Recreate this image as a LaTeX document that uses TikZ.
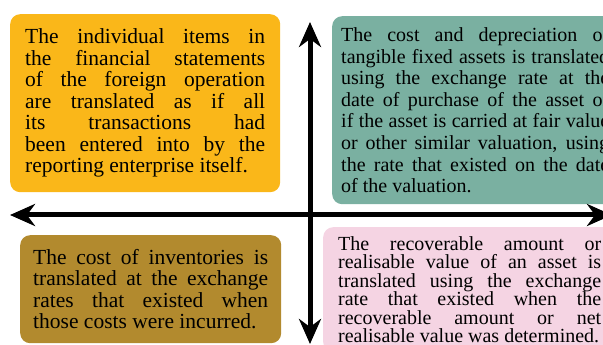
\documentclass[tikz,border=0pt]{standalone}
\usepackage{fontspec}
\setmainfont{Liberation Serif}
\usetikzlibrary{arrows.meta}

\definecolor{itemsyellow}{RGB}{250,183,25}
\definecolor{assetsteal}{RGB}{122,176,161}
\definecolor{stockbrown}{RGB}{178,138,46}
\definecolor{valuepink}{RGB}{245,212,227}

\begin{document}
\begin{tikzpicture}[
  x=1pt, y=1pt,
  every node/.style={anchor=north west, rounded corners=10pt, align=justify,
    execute at begin node={\tolerance=10000}},
  bigtext/.style={font=\fontsize{21.5}{21.5}\selectfont},
  midtext/.style={font=\fontsize{20}{21.6}\selectfont},
  smalltext/.style={font=\fontsize{20}{18.5}\selectfont},
  axis/.style={line width=5pt, <->, >={Stealth[length=25pt,width=22pt,inset=8pt]}}
]
\useasboundingbox (0,0) rectangle (603,345);
\clip (0,0) rectangle (603,345);

% the four quadrants
\node[bigtext, fill=itemsyellow, text width=240pt, inner xsep=15pt, minimum height=178pt] (items) at (10,331)
  {The individual items in\linebreak the financial statements\linebreak of the foreign operation\linebreak are translated as if all\linebreak its transactions had\linebreak been entered into by the\linebreak reporting enterprise itself.};
\node[midtext, fill=assetsteal, text width=268pt, inner xsep=9pt, minimum height=188pt] (assets) at (332,329)
  {The cost and depreciation of\linebreak tangible fixed assets is translated\linebreak using the exchange rate at the\linebreak date of purchase of the asset or\linebreak if the asset is carried at fair value\linebreak or other similar valuation, using\linebreak the rate that existed on the date\linebreak of the valuation.};
\node[bigtext, fill=stockbrown, text width=235pt, inner xsep=13pt, minimum height=108pt] (stock) at (20,110)
  {The cost of inventories is\linebreak translated at the exchange\linebreak rates that existed when\linebreak those costs were incurred.};
\node[smalltext, fill=valuepink, text width=263pt, inner xsep=15pt, minimum height=125pt] (value) at (323,118)
  {The recoverable amount or\linebreak realisable value of an asset is\linebreak translated using the exchange\linebreak rate that existed when the\linebreak recoverable amount or net\linebreak realisable value was determined.};

% axes
\coordinate (west) at (10,130);
\coordinate (east) at (612,130);
\coordinate (north) at (310,323);
\coordinate (south) at (310,1);
\draw[axis] (west) -- (east);
\draw[axis] (north) -- (south);
\end{tikzpicture}
\end{document}
